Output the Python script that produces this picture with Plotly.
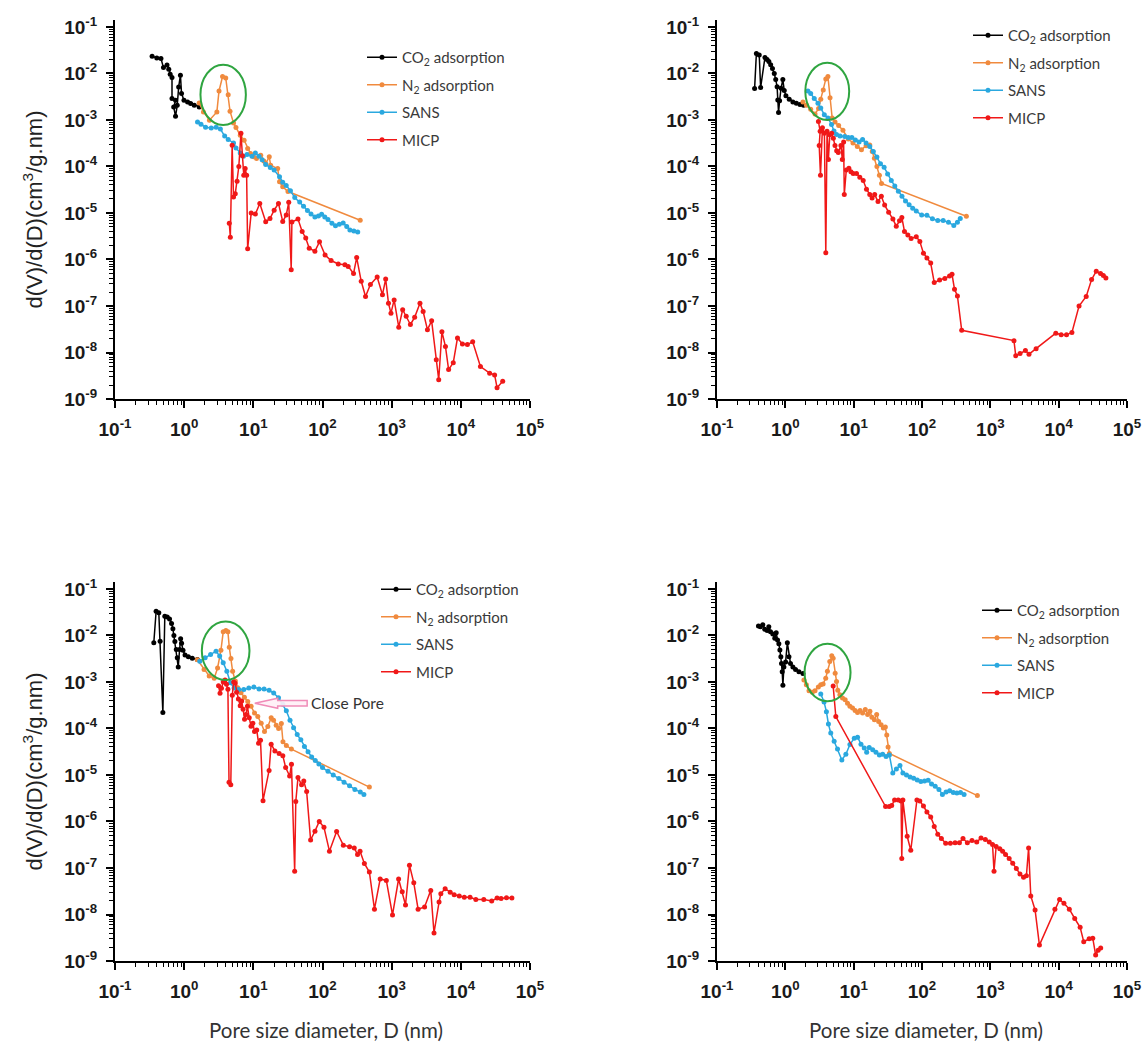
import math
import plotly.graph_objects as go

# ---------------- data (pore diameter D in nm, dV/dD in cm3/g.nm) ----------------
# Panel 1 (top-left)
p1_co2_x = [0.344,0.402,0.462,0.502,0.565,0.599,0.628,0.667,0.667,0.750,0.706,0.750,0.794,0.833,0.883,0.916,0.994,1.12,1.24,1.40,1.65]
p1_co2_y = [0.0235,0.0216,0.0209,0.0134,0.0152,0.0123,0.0096,0.0082,0.00288,0.00265,0.00191,0.00120,0.00207,0.00514,0.0092,0.00369,0.00265,0.00244,0.00225,0.00207,0.00191]
p1_n2_x = [1.65,1.90,2.32,2.97,3.19,3.59,3.99,4.33,4.60,5.17,5.61,6.47,7.36,8.28,9.10,10.1,11.1,12.8,14.2,15.1,17.0,17.8,22.5,23.9,26.6,31.7,351]
p1_n2_y = [2.33e-3,1.49e-3,9.9e-4,1.49e-3,4.2e-3,8.6e-3,8.0e-3,3.5e-3,1.55e-3,8.6e-4,6.9e-4,4.7e-4,3.67e-4,2.43e-4,1.90e-4,1.61e-4,1.48e-4,1.75e-4,1.32e-4,1.16e-4,1.61e-4,1.06e-4,9.0e-5,4.67e-5,3.65e-5,2.9e-5,7.0e-6]
p1_sans_x = [1.56,1.75,2.04,2.46,2.90,3.34,3.85,4.33,5.17,5.61,6.47,7.19,8.09,9.55,10.7,12.1,13.4,15.1,17.6,20.0,23.9,26.6,29.9,34.4,39.7,46.8,53.2,60.6,68.2,77.6,87.3,97.1,108,120,137,154,175,199,224,249,284,323]
p1_sans_y = [9.0e-4,8.1e-4,7.0e-4,6.7e-4,7.0e-4,6.4e-4,4.5e-4,3.8e-4,3.2e-4,2.5e-4,1.95e-4,1.65e-4,1.80e-4,1.65e-4,1.95e-4,1.65e-4,1.40e-4,1.10e-4,9.5e-5,8.4e-5,6.0e-5,4.6e-5,3.9e-5,3.0e-5,2.15e-5,1.72e-5,1.40e-5,1.13e-5,9.5e-6,8.2e-6,8.6e-6,9.4e-6,8.2e-6,7.2e-6,6.0e-6,5.3e-6,5.7e-6,6.1e-6,5.1e-6,4.3e-6,4.1e-6,3.9e-6]
p1_micp_x = [4.49,4.65,4.94,5.17,5.48,5.82,6.17,6.62,6.94,7.27,7.62,8.00,8.28,9.31,10.7,12.4,15.1,17.4,20.0,23.1,26.6,29.9,32.5,35.3,36.1,44.2,50.8,57.2,64.3,77.6,90.5,109,133,169,211,235,281,312,363,419,493,617,736,819,899,977,1086,1266,1442,1622,1866,2149,2564,2851,3289,3784,4414,4790,5325,5990,6660,7770,8940,10540,12440,14840,19210,26100,30800,33400,40300]
p1_micp_y = [6.0e-6,3.0e-6,2.86e-4,2.2e-5,2.6e-5,4.8e-5,1.0e-4,5.2e-4,1.70e-4,6.5e-5,9.0e-5,6.5e-5,1.7e-6,1.0e-5,9.5e-6,1.6e-5,6.5e-6,7.6e-6,1.15e-5,1.6e-5,6.6e-6,9.0e-6,1.7e-5,6.0e-7,6.4e-6,7.4e-6,4.0e-6,2.9e-6,1.75e-6,1.5e-6,2.4e-6,1.25e-6,9.5e-7,8.0e-7,7.7e-7,7.1e-7,5.0e-7,1.1e-6,3.4e-7,1.6e-7,2.9e-7,4.2e-7,1.75e-7,3.8e-7,1.15e-7,7.0e-8,1.35e-7,3.5e-8,8.3e-8,6.0e-8,4.0e-8,5.7e-8,1.15e-7,7.6e-8,3.1e-8,4.8e-8,7.0e-9,2.6e-9,2.8e-8,1.35e-8,4.3e-9,6.0e-9,2.05e-8,1.52e-8,1.48e-8,1.7e-8,5.0e-9,3.6e-9,3.3e-9,1.75e-9,2.4e-9]

# Panel 2 (top-right)
p2_co2_x = [0.355,0.377,0.415,0.435,0.503,0.541,0.574,0.610,0.648,0.689,0.723,0.758,0.776,0.796,0.824,0.865,0.919,0.964,1.02,1.14,1.29,1.45,1.64,1.85]
p2_co2_y = [4.73e-3,2.7e-2,2.5e-2,4.98e-3,2.2e-2,2.0e-2,1.8e-2,1.55e-2,1.28e-2,1.0e-2,7.4e-3,5.2e-3,2.70e-3,1.45e-3,2.6e-3,4.8e-3,7.4e-3,4.3e-3,3.3e-3,2.8e-3,2.45e-3,2.3e-3,2.15e-3,2.08e-3]
p2_n2_x = [1.81,2.04,2.35,2.72,3.07,3.30,3.59,3.91,4.20,4.51,4.85,5.34,6.03,6.97,8.34,9.77,11.3,13.0,15.2,17.2,18.7,20.1,21.9,23.8,25.6,446]
p2_n2_y = [2.44e-3,2.08e-3,1.71e-3,1.34e-3,1.77e-3,2.80e-3,4.43e-3,7.6e-3,8.6e-3,3.0e-3,1.1e-3,9.0e-4,7.6e-4,6.0e-4,3.9e-4,3.2e-4,2.7e-4,2.3e-4,2.8e-4,2.9e-4,2.1e-4,1.5e-4,1.0e-4,6.5e-5,4.3e-5,8.5e-6]
p2_sans_x = [2.14,2.35,2.65,3.00,3.30,3.72,4.20,4.74,5.15,5.61,6.32,7.40,8.34,9.41,10.6,12.0,13.5,15.2,17.2,19.4,21.9,24.7,27.9,31.4,35.5,40.0,45.1,50.9,57.4,64.8,73.1,82.4,98.9,118,142,170,204,244,292,330,363]
p2_sans_y = [4.2e-3,3.7e-3,2.9e-3,2.3e-3,1.8e-3,1.3e-3,1.1e-3,8.0e-4,5.8e-4,4.9e-4,4.5e-4,4.4e-4,4.2e-4,4.2e-4,3.7e-4,3.35e-4,3.8e-4,3.2e-4,2.7e-4,2.1e-4,1.6e-4,1.15e-4,9.6e-5,6.9e-5,5.0e-5,3.8e-5,2.95e-5,2.3e-5,1.8e-5,1.5e-5,1.27e-5,1.1e-5,9.0e-6,8.9e-6,7.5e-6,6.9e-6,6.9e-6,6.3e-6,5.4e-6,6.3e-6,7.6e-6]
p2_micp_x = [3.05,3.23,3.13,3.27,3.49,3.73,3.91,4.08,4.27,4.47,4.77,5.04,5.33,5.64,5.96,6.51,6.82,7.13,7.29,7.80,8.51,9.12,9.84,11.0,12.3,13.8,15.4,17.2,18.6,20.3,22.7,25.4,28.4,32.5,37.5,42.0,46.9,50.7,55.4,62.1,69.3,82.4,93.0,105,118,134,151,181,216,253,275,299,330,381,2218,2355,2723,3261,3677,4677,9080,10880,13030,15630,19870,25290,30340,35480,41000,45100,49100]
p2_micp_y = [9.3e-4,5.7e-4,2.84e-4,6.5e-5,6.8e-4,5.2e-4,1.4e-6,5.7e-4,1.42e-4,4.79e-4,5.2e-4,4.03e-4,2.84e-4,2.19e-4,2.01e-4,2.84e-4,1.42e-4,3.38e-4,2.49e-5,8.4e-5,9.2e-5,7.7e-5,7.1e-5,7.1e-5,5.9e-5,5.0e-5,3.24e-5,2.49e-5,2.09e-5,2.49e-5,1.76e-5,2.29e-5,1.48e-5,1.04e-5,7.4e-6,5.2e-6,6.8e-6,8.0e-6,4.02e-6,3.38e-6,2.84e-6,3.10e-6,2.43e-6,1.37e-6,1.07e-6,8.4e-7,3.2e-7,3.6e-7,3.9e-7,4.4e-7,4.8e-7,2.3e-7,1.65e-7,3.0e-8,1.8e-8,8.5e-9,9.5e-9,1.1e-8,9.2e-9,1.2e-8,2.6e-8,2.4e-8,2.4e-8,2.7e-8,1.0e-7,1.6e-7,3.7e-7,5.6e-7,5.0e-7,4.5e-7,4.0e-7]

# Panel 3 (bottom-left)
p3_co2_x = [0.364,0.393,0.430,0.449,0.492,0.525,0.569,0.615,0.657,0.687,0.711,0.734,0.769,0.795,0.821,0.859,0.889,0.918,0.962,1.03,1.15,1.31,1.55]
p3_co2_y = [7.0e-3,3.3e-2,3.1e-2,7.5e-3,2.2e-4,2.6e-2,2.5e-2,2.25e-2,1.8e-2,1.4e-2,1.0e-2,7.4e-3,5.0e-3,3.3e-3,2.1e-3,5.0e-3,8.5e-3,6.8e-3,4.8e-3,3.8e-3,3.5e-3,3.25e-3,3.05e-3]
p3_n2_x = [1.55,1.94,2.30,2.72,3.04,3.40,3.67,4.01,4.29,4.49,4.75,5.02,5.49,5.94,6.64,7.43,8.30,9.29,10.4,11.6,13.0,14.5,16.2,18.1,19.6,21.4,23.2,25.4,26.8,30.0,35.5,476]
p3_n2_y = [3.0e-3,1.85e-3,1.35e-3,1.2e-3,2.0e-3,4.8e-3,1.2e-2,1.28e-2,1.2e-2,5.6e-3,3.2e-3,1.7e-3,1.05e-3,7.5e-4,5.9e-4,4.7e-4,3.8e-4,3.0e-4,2.15e-4,1.8e-4,1.3e-4,8.6e-5,1.1e-4,1.7e-4,1.5e-4,1.18e-4,1.0e-4,1.28e-4,5.2e-5,4.3e-5,3.6e-5,5.5e-6]
p3_sans_x = [1.68,2.01,2.41,2.89,3.26,3.67,4.14,4.67,5.27,6.15,7.28,8.61,10.2,12.1,14.3,16.9,19.7,23.1,26.7,30.0,33.9,38.2,43.1,48.6,54.8,61.8,69.7,78.6,88.7,100,120,143,172,205,246,294,352,397]
p3_sans_y = [2.8e-3,3.3e-3,3.9e-3,4.6e-3,3.6e-3,2.6e-3,1.7e-3,9.6e-4,7.4e-4,6.9e-4,6.9e-4,7.4e-4,7.8e-4,7.1e-4,7.1e-4,6.6e-4,5.8e-4,4.6e-4,3.3e-4,2.4e-4,1.5e-4,1.04e-4,7.4e-5,5.7e-5,4.1e-5,3.15e-5,2.45e-5,2.05e-5,1.72e-5,1.44e-5,1.2e-5,1.0e-5,8.4e-6,7.0e-6,5.9e-6,4.9e-6,4.3e-6,3.8e-6]
p3_micp_x = [3.14,3.30,3.46,3.67,3.90,4.09,4.29,4.45,4.72,4.96,5.20,5.46,5.73,6.08,6.46,6.78,7.11,7.46,7.83,8.21,8.72,9.26,9.84,10.4,11.2,11.9,12.7,13.8,16.9,18.1,20.5,23.6,26.7,29.3,33.5,35.6,39.6,41.1,44.2,49.8,53.6,59.0,67.3,77.8,89.8,105,126,160,200,246,288,321,349,403,476,564,682,837,1028,1260,1421,1585,1808,2089,2411,2992,3673,4093,4842,5140,5930,7020,8010,9480,11220,13590,16480,21470,27940,33430,38190,45710,54700]
p3_micp_y = [8.3e-4,5.7e-4,7.3e-4,1.0e-3,1.1e-3,8.9e-4,7.0e-4,7.0e-6,6.2e-6,5.2e-4,1.0e-3,9.4e-4,6.0e-4,4.3e-4,3.1e-4,3.9e-4,2.6e-4,1.58e-4,2.0e-4,3.0e-4,1.7e-4,1.12e-4,1.3e-4,8.6e-5,9.3e-5,4.8e-5,5.6e-5,2.8e-6,1.25e-5,4.6e-5,3.3e-5,2.9e-5,2.6e-5,1.45e-5,9.5e-6,1.7e-5,8.5e-8,2.7e-6,8.8e-6,6.2e-6,7.4e-6,4.4e-6,4.0e-7,6.2e-7,1.0e-6,7.5e-7,2.3e-7,6.1e-7,3.1e-7,2.85e-7,2.7e-7,1.95e-7,2.3e-7,1.25e-7,8.2e-8,1.3e-8,5.8e-8,5.4e-8,9.8e-9,5.8e-8,3.1e-8,1.6e-8,1.15e-7,4.8e-8,1.3e-8,1.45e-8,3.3e-8,4.0e-9,1.85e-8,2.8e-8,3.6e-8,3.0e-8,2.65e-8,2.5e-8,2.35e-8,2.35e-8,2.1e-8,2.1e-8,1.95e-8,2.25e-8,2.2e-8,2.3e-8,2.25e-8]

# Panel 4 (bottom-right)
p4_co2_x = [0.404,0.432,0.468,0.500,0.542,0.573,0.607,0.656,0.701,0.735,0.769,0.804,0.832,0.860,0.879,0.900,0.921,0.953,1.01,1.07,1.13,1.19,1.29,1.41,1.58,1.81]
p4_co2_y = [1.6e-2,1.55e-2,1.7e-2,1.36e-2,1.28e-2,1.55e-2,1.2e-2,1.08e-2,8.7e-3,1.15e-2,8.0e-3,6.6e-3,4.9e-3,3.5e-3,2.5e-3,1.65e-3,8.5e-4,2.1e-3,2.7e-3,7.0e-3,3.5e-3,2.5e-3,2.1e-3,1.85e-3,1.65e-3,1.52e-3]
p4_n2_x = [1.87,2.03,2.22,2.48,2.72,3.04,3.30,3.57,3.90,4.13,4.47,4.78,5.01,5.36,5.61,5.86,6.28,6.87,7.51,8.13,8.81,9.63,10.5,11.4,12.4,13.5,14.8,16.0,17.3,18.5,20.1,21.7,23.2,25.2,27.2,29.1,30.5,31.9,33.3,646]
p4_n2_y = [1.1e-3,8.7e-4,6.5e-4,6.0e-4,6.5e-4,7.8e-4,8.7e-4,9.1e-4,1.2e-3,1.7e-3,2.75e-3,3.65e-3,3.25e-3,1.55e-3,1.03e-3,6.6e-4,5.3e-4,4.5e-4,4.15e-4,3.5e-4,3.0e-4,2.75e-4,2.45e-4,2.2e-4,2.45e-4,2.15e-4,2.55e-4,2.0e-4,2.35e-4,1.75e-4,1.55e-4,2.0e-4,1.42e-4,1.2e-4,1.02e-4,1.07e-4,7.2e-5,4.0e-5,2.9e-5,3.6e-6]
p4_sans_x = [3.30,3.69,3.99,4.27,4.62,5.18,5.80,6.71,7.69,8.81,10.2,11.4,12.8,14.3,15.5,16.9,19.0,21.2,23.8,26.6,29.8,33.3,37.4,42.2,47.6,52.5,59.3,66.9,75.5,85.3,96.2,109,123,138,156,177,199,225,254,287,324,366,413]
p4_sans_y = [5.5e-4,3.7e-4,2.3e-4,1.25e-4,8.0e-5,5.3e-5,3.6e-5,2.1e-5,2.8e-5,4.5e-5,6.2e-5,6.5e-5,4.6e-5,3.8e-5,3.1e-5,3.9e-5,3.5e-5,3.1e-5,2.7e-5,2.8e-5,2.5e-5,2.7e-5,1.1e-5,1.35e-5,1.6e-5,1.1e-5,1.0e-5,9.1e-6,8.5e-6,7.8e-6,7.2e-6,7.4e-6,7.7e-6,6.4e-6,5.7e-6,4.9e-6,3.8e-6,4.3e-6,4.6e-6,4.2e-6,4.1e-6,4.2e-6,3.8e-6]
p4_micp_x = [5.01,5.48,29.3,33.1,36.0,39.7,44.9,49.4,50.6,52.5,60.7,68.5,84.3,92.9,105,118,134,151,170,192,222,260,305,353,398,461,539,632,731,846,966,1077,1132,1217,1374,1514,1670,1885,2128,2403,2712,3063,3373,3631,3908,4519,5228,8810,10320,11940,14320,17180,20610,23280,27920,31550,34750,37840,41210]
p4_micp_y = [8.2e-4,1.8e-4,2.1e-6,2.1e-6,2.2e-6,2.9e-6,2.9e-6,2.75e-6,1.6e-7,2.9e-6,4.8e-7,2.4e-7,2.9e-6,2.75e-6,2.15e-6,1.6e-6,1.25e-6,7.8e-7,5.3e-7,4.3e-7,3.4e-7,3.4e-7,3.5e-7,3.5e-7,4.3e-7,3.5e-7,3.9e-7,3.6e-7,4.4e-7,4.1e-7,3.6e-7,3.2e-7,8.5e-8,2.9e-7,2.6e-7,2.3e-7,1.95e-7,1.6e-7,1.27e-7,9.8e-8,7.4e-8,6.3e-8,6.8e-8,2.7e-7,2.5e-8,1.25e-8,2.2e-9,1.3e-8,2.1e-8,1.75e-8,1.3e-8,8.2e-9,5.3e-9,2.6e-9,3.0e-9,3.1e-9,1.35e-9,1.7e-9,1.9e-9]

series_names = ["CO<sub>2</sub> adsorption", "N<sub>2</sub> adsorption", "SANS", "MICP"]
series_colors = ["#000000", "#f08a3e", "#2aa8df", "#f01818"]

x_tick_exps = [-1, 0, 1, 2, 3, 4, 5]
y_tick_exps = [-1, -2, -3, -4, -5, -6, -7, -8, -9]

# green ellipses around the N2 peak (bounding box in data units: D min, D max, V min, V max)
ellipses = [(1.72, 7.8, 7.8e-4, 1.55e-2), (1.96, 8.6, 1.0e-3, 1.7e-2),
            (1.80, 8.8, 1.1e-3, 2.0e-2), (1.91, 9.0, 3.85e-4, 6.6e-3)]

# "Close Pore" callout (panel 3)
close_tip_D, close_head_D, close_tail_D, close_V = 10.5, 22.5, 60.0, 3.5e-4
close_text_D = 64.0

# ---------------- figure ----------------
W, H = 1147, 1052
XR = [-1, 5]
YR = [-9, -0.85]
left_dom = [115 / W, 530 / W]
right_dom = [717 / W, 1127 / W]
top_dom = [1 - 399 / H, 1 - 20 / H]
bot_dom = [1 - 961 / H, 1 - 582 / H]

panels = [
    dict(x=[p1_co2_x, p1_n2_x, p1_sans_x, p1_micp_x], y=[p1_co2_y, p1_n2_y, p1_sans_y, p1_micp_y],
         xd=left_dom, yd=top_dom),
    dict(x=[p2_co2_x, p2_n2_x, p2_sans_x, p2_micp_x], y=[p2_co2_y, p2_n2_y, p2_sans_y, p2_micp_y],
         xd=right_dom, yd=top_dom),
    dict(x=[p3_co2_x, p3_n2_x, p3_sans_x, p3_micp_x], y=[p3_co2_y, p3_n2_y, p3_sans_y, p3_micp_y],
         xd=left_dom, yd=bot_dom),
    dict(x=[p4_co2_x, p4_n2_x, p4_sans_x, p4_micp_x], y=[p4_co2_y, p4_n2_y, p4_sans_y, p4_micp_y],
         xd=right_dom, yd=bot_dom),
]
legend_pos = [(362 / W, 1 - 41 / H), (968 / W, 1 - 19 / H), (376 / W, 1 - 573 / H), (977 / W, 1 - 594 / H)]

fig = go.Figure()
layout = dict(width=W, height=H, margin=dict(l=0, r=0, t=0, b=0, autoexpand=False),
              paper_bgcolor="white", plot_bgcolor="white", showlegend=True)

tick_font = dict(family="Liberation Sans, Arial, sans-serif", size=19, color="#1a1a1a")
minor_x = [k * 10.0 ** n for n in range(-1, 5) for k in range(2, 10)]
minor_y = [k * 10.0 ** n for n in range(-9, -1) for k in range(2, 10)]

for i, p in enumerate(panels):
    n = i + 1
    sfx = "" if n == 1 else str(n)
    leg = "legend" if n == 1 else "legend%d" % n
    for j in range(4):
        fig.add_trace(go.Scatter(
            x=p["x"][j], y=p["y"][j], mode="lines+markers", name=series_names[j],
            line=dict(color=series_colors[j], width=1.5),
            marker=dict(color=series_colors[j], size=5),
            xaxis="x" + sfx, yaxis="y" + sfx, legend=leg, legendgroup="g%d_%d" % (n, j)))
    layout["xaxis" + sfx] = dict(
        type="log", range=XR, domain=p["xd"], anchor="y" + sfx,
        showline=True, linecolor="black", linewidth=2.2, showgrid=False, zeroline=False,
        ticks="outside", ticklen=7, tickwidth=2, tickcolor="black",
        tickvals=[10.0 ** e for e in x_tick_exps],
        ticktext=["<b>10<sup>%d</sup></b>" % e for e in x_tick_exps],
        tickfont=tick_font, ticklabelstandoff=5,
        minor=dict(tickvals=minor_x, ticks="outside", ticklen=4, tickwidth=1.3, tickcolor="black"))
    layout["yaxis" + sfx] = dict(
        type="log", range=YR, domain=p["yd"], anchor="x" + sfx,
        showline=True, linecolor="black", linewidth=2.2, showgrid=False, zeroline=False,
        ticks="outside", ticklen=7, tickwidth=2, tickcolor="black",
        tickvals=[10.0 ** e for e in y_tick_exps],
        ticktext=["<b>10<sup>%d</sup></b>" % e for e in y_tick_exps],
        tickfont=tick_font, ticklabelstandoff=5,
        minor=dict(tickvals=minor_y, ticks="outside", ticklen=4, tickwidth=1.3, tickcolor="black"))
    lx, ly = legend_pos[i]
    layout[leg] = dict(x=lx, y=ly, xanchor="left", yanchor="top", bgcolor="rgba(0,0,0,0)",
                       font=dict(family="Lato, Carlito, sans-serif", size=15, color="#3a3a3a"),
                       tracegroupgap=5, itemwidth=30)


def dom_x(v):
    return (math.log10(v) - XR[0]) / (XR[1] - XR[0])


def dom_y(v):
    return (math.log10(v) - YR[0]) / (YR[1] - YR[0])


shapes = []
for i, (d0, d1, v0, v1) in enumerate(ellipses):
    sfx = "" if i == 0 else str(i + 1)
    shapes.append(dict(type="circle", xref="x%s domain" % sfx, yref="y%s domain" % sfx,
                       x0=dom_x(d0), x1=dom_x(d1), y0=dom_y(v0), y1=dom_y(v1),
                       line=dict(color="#2fa540", width=2)))

# hollow block arrow for "Close Pore"
yc = dom_y(close_V)
hh, hs = 0.108 / (YR[1] - YR[0]), 0.058 / (YR[1] - YR[0])
xt, xh, xe = dom_x(close_tip_D), dom_x(close_head_D), dom_x(close_tail_D)
path = ("M %f,%f L %f,%f L %f,%f L %f,%f L %f,%f L %f,%f L %f,%f Z" %
        (xt, yc, xh, yc + hh, xh, yc + hs, xe, yc + hs, xe, yc - hs, xh, yc - hs, xh, yc - hh))
shapes.append(dict(type="path", xref="x3 domain", yref="y3 domain", path=path,
                   line=dict(color="#f08cb8", width=1.5), fillcolor="rgba(255,240,246,0.9)"))
layout["shapes"] = shapes

ytitle = "d(V)/d(D)(cm<sup>3</sup>/g.nm)"
xtitle = "Pore size diameter, D (nm)"
ann = []
for yd in (top_dom, bot_dom):
    ann.append(dict(text=ytitle, xref="paper", yref="paper", x=32 / W, y=(yd[0] + yd[1]) / 2,
                    textangle=-90, showarrow=False, xanchor="center", yanchor="middle",
                    font=dict(family="Liberation Sans, Arial, sans-serif", size=22, color="#222222")))
for xd in (left_dom, right_dom):
    ann.append(dict(text=xtitle, xref="paper", yref="paper", x=(xd[0] + xd[1]) / 2 + 4 / W, y=1 - 1030 / H,
                    showarrow=False, xanchor="center", yanchor="middle",
                    font=dict(family="Lato, Carlito, sans-serif", size=20.5, color="#333333")))
ann.append(dict(text="Close Pore", xref="x3", yref="y3", x=math.log10(close_text_D), y=math.log10(close_V),
                showarrow=False, xanchor="left", yanchor="middle",
                font=dict(family="Lato, Carlito, sans-serif", size=15.5, color="#333333")))
layout["annotations"] = ann

fig.update_layout(**layout)
fig.write_html("out.html")
